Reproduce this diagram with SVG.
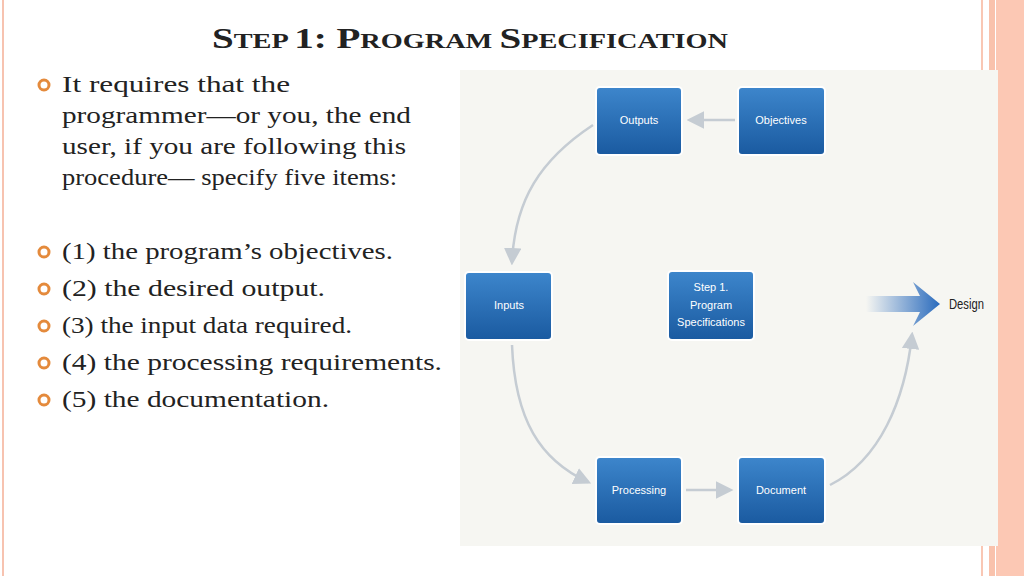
<svg xmlns="http://www.w3.org/2000/svg" width="1024" height="576" viewBox="0 0 1024 576">
<defs>
<linearGradient id="bg" x1="0" y1="0" x2="0" y2="1"><stop offset="0" stop-color="#3d86cc"/><stop offset="1" stop-color="#1a5aa0"/></linearGradient>
<linearGradient id="ar" x1="0" y1="0" x2="1" y2="0"><stop offset="0" stop-color="#2a6bbd" stop-opacity="0"/><stop offset="1" stop-color="#2a6bbd"/></linearGradient>
<marker id="m" viewBox="0 0 10 10" refX="8" refY="5" markerWidth="7" markerHeight="7" orient="auto"><path d="M0,0 L10,5 L0,10 Z" fill="#c5ccd3"/></marker>
</defs>
<style>
.b{fill:url(#bg);stroke:#fff;stroke-width:2}
.bt{font-family:"Liberation Sans",sans-serif;font-size:11px;fill:#fff;text-anchor:middle}
.t{font-family:"Liberation Serif",serif;font-size:23px;fill:#222}
.c{fill:none;stroke:#c5ccd3;stroke-width:2.5;marker-end:url(#m)}
.bul{fill:none;stroke:#e48a3c;stroke-width:3}
</style>
<rect width="1024" height="576" fill="#fff"/>
<rect x="2" y="0" width="2" height="576" fill="#f7c3b0"/>
<rect x="981" y="0" width="2" height="576" fill="#f9c7b4"/>
<rect x="989" y="0" width="6" height="576" fill="#f9c2ac"/>
<rect x="996" y="0" width="28" height="576" fill="#fcc8b4"/>
<rect x="460" y="70" width="538" height="476" fill="#f6f6f2"/>
<text x="212" y="48" textLength="516" lengthAdjust="spacingAndGlyphs" font-family="Liberation Serif,serif" font-weight="bold" fill="#222"><tspan font-size="29">S</tspan><tspan font-size="21">TEP </tspan><tspan font-size="29">1: P</tspan><tspan font-size="21">ROGRAM </tspan><tspan font-size="29">S</tspan><tspan font-size="21">PECIFICATION</tspan></text>
<g id="bullets">
<circle class="bul" cx="44" cy="85" r="5"/><circle class="bul" cx="44" cy="252" r="5"/><circle class="bul" cx="44" cy="289" r="5"/><circle class="bul" cx="44" cy="326" r="5"/><circle class="bul" cx="44" cy="363" r="5"/><circle class="bul" cx="44" cy="400" r="5"/>
<text class="t" x="62" y="92" textLength="228" lengthAdjust="spacingAndGlyphs">It requires that the</text>
<text class="t" x="62" y="123" textLength="349" lengthAdjust="spacingAndGlyphs">programmer—or you, the end</text>
<text class="t" x="62" y="154" textLength="344" lengthAdjust="spacingAndGlyphs">user, if you are following this</text>
<text class="t" x="62" y="185" textLength="335" lengthAdjust="spacingAndGlyphs">procedure— specify five items:</text>
<text class="t" x="62" y="259" textLength="331" lengthAdjust="spacingAndGlyphs">(1) the program’s objectives.</text>
<text class="t" x="62" y="296" textLength="263" lengthAdjust="spacingAndGlyphs">(2) the desired output.</text>
<text class="t" x="62" y="333" textLength="290" lengthAdjust="spacingAndGlyphs">(3) the input data required.</text>
<text class="t" x="62" y="370" textLength="380" lengthAdjust="spacingAndGlyphs">(4) the processing requirements.</text>
<text class="t" x="62" y="407" textLength="267" lengthAdjust="spacingAndGlyphs">(5) the documentation.</text>
</g>
<g id="connectors">
<path class="c" d="M735,120 L690,120"/>
<path class="c" d="M593,125 C540,160 515,200 512,262"/>
<path class="c" d="M512,345 C515,420 540,460 588,482"/>
<path class="c" d="M686,490 L730,490"/>
<path class="c" d="M830,485 C880,460 905,400 912,335"/>
<path d="M866,296 L920,296 L913,282 L940,304 L913,326 L920,312 L866,312 Z" fill="url(#ar)"/>
<text x="949" y="309" textLength="35" lengthAdjust="spacingAndGlyphs" font-family="Liberation Sans,sans-serif" font-size="15" fill="#222">Design</text>
</g>
<g id="outputs"><rect class="b" x="596" y="87" width="86" height="68" rx="4"/><text class="bt" x="639" y="124">Outputs</text></g>
<g id="objectives"><rect class="b" x="738" y="87" width="87" height="68" rx="4"/><text class="bt" x="781" y="124">Objectives</text></g>
<g id="inputs"><rect class="b" x="465" y="272" width="87" height="68" rx="4"/><text class="bt" x="509" y="309">Inputs</text></g>
<g id="step1"><rect class="b" x="668" y="271" width="86" height="69" rx="4"/><text class="bt" x="711" y="291">Step 1.</text><text class="bt" x="711" y="309">Program</text><text class="bt" x="711" y="326">Specifications</text></g>
<g id="processing"><rect class="b" x="596" y="457" width="86" height="67" rx="4"/><text class="bt" x="639" y="494">Processing</text></g>
<g id="document"><rect class="b" x="738" y="457" width="87" height="67" rx="4"/><text class="bt" x="781" y="494">Document</text></g>
</svg>
